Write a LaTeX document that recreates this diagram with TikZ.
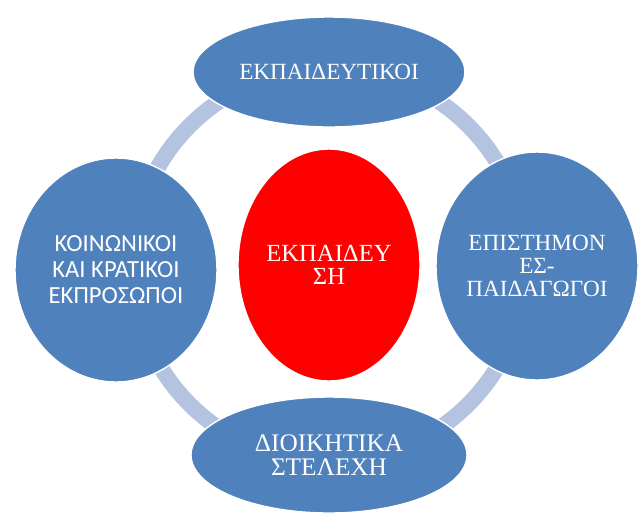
\documentclass[tikz,border=0pt]{standalone}
\usepackage{fontspec}
\setmainfont{Liberation Serif}
\newfontfamily\calibrifont{Carlito}
\usetikzlibrary{shapes.geometric}
\definecolor{blobblue}{HTML}{4F81BD}
\definecolor{ringblue}{HTML}{B3C3E0}

\begin{document}
\begin{tikzpicture}[
            blob/.style={ellipse, draw=white, line width=1pt, fill=blobblue, text=white, align=center, inner sep=0pt},
            hub/.style={blob, fill=red},
            ring/.style={draw=ringblue, line width=0.4cm}
        ]
        \useasboundingbox (0,0) rectangle (15.975,-12.925);

        % ring behind the ellipses
        \coordinate (mid) at (8.225,-6.625);
        \draw[ring] (mid) circle (4.925cm);

        \node[blob, minimum width=6.8cm, minimum height=2.75cm, font=\fontsize{16.5}{18}\selectfont] (teach) at (8.225,-1.8) {ΕΚΠΑΙΔΕΥΤΙΚΟΙ};
        \node[blob, minimum width=5.05cm, minimum height=5.6cm, font=\calibrifont\fontsize{17.5}{18.5}\selectfont] (social) at (2.9,-6.75) {ΚΟΙΝΩΝΙΚΟΙ\\ΚΑΙ ΚΡΑΤΙΚΟΙ\\ΕΚΠΡΟΣΩΠΟΙ};
        \node[blob, minimum width=5.05cm, minimum height=5.7cm, font=\fontsize{16.5}{16.5}\selectfont] (science) at (13.425,-6.65) {ΕΠΙΣΤΗΜΟΝ\\ΕΣ-\\ΠΑΙΔΑΓΩΓΟΙ};
        \node[blob, minimum width=6.9cm, minimum height=2.9cm, font=\fontsize{18}{17.5}\selectfont] (admin) at (8.225,-11.375) {ΔΙΟΙΚΗΤΙΚΑ\\ΣΤΕΛΕΧΗ};
        \node[hub, minimum width=4.55cm, minimum height=5.8cm, font=\fontsize{17.5}{16.5}\selectfont] (hub) at (mid) {ΕΚΠΑΙΔΕΥ\\ΣΗ};
    \end{tikzpicture}
\end{document}
